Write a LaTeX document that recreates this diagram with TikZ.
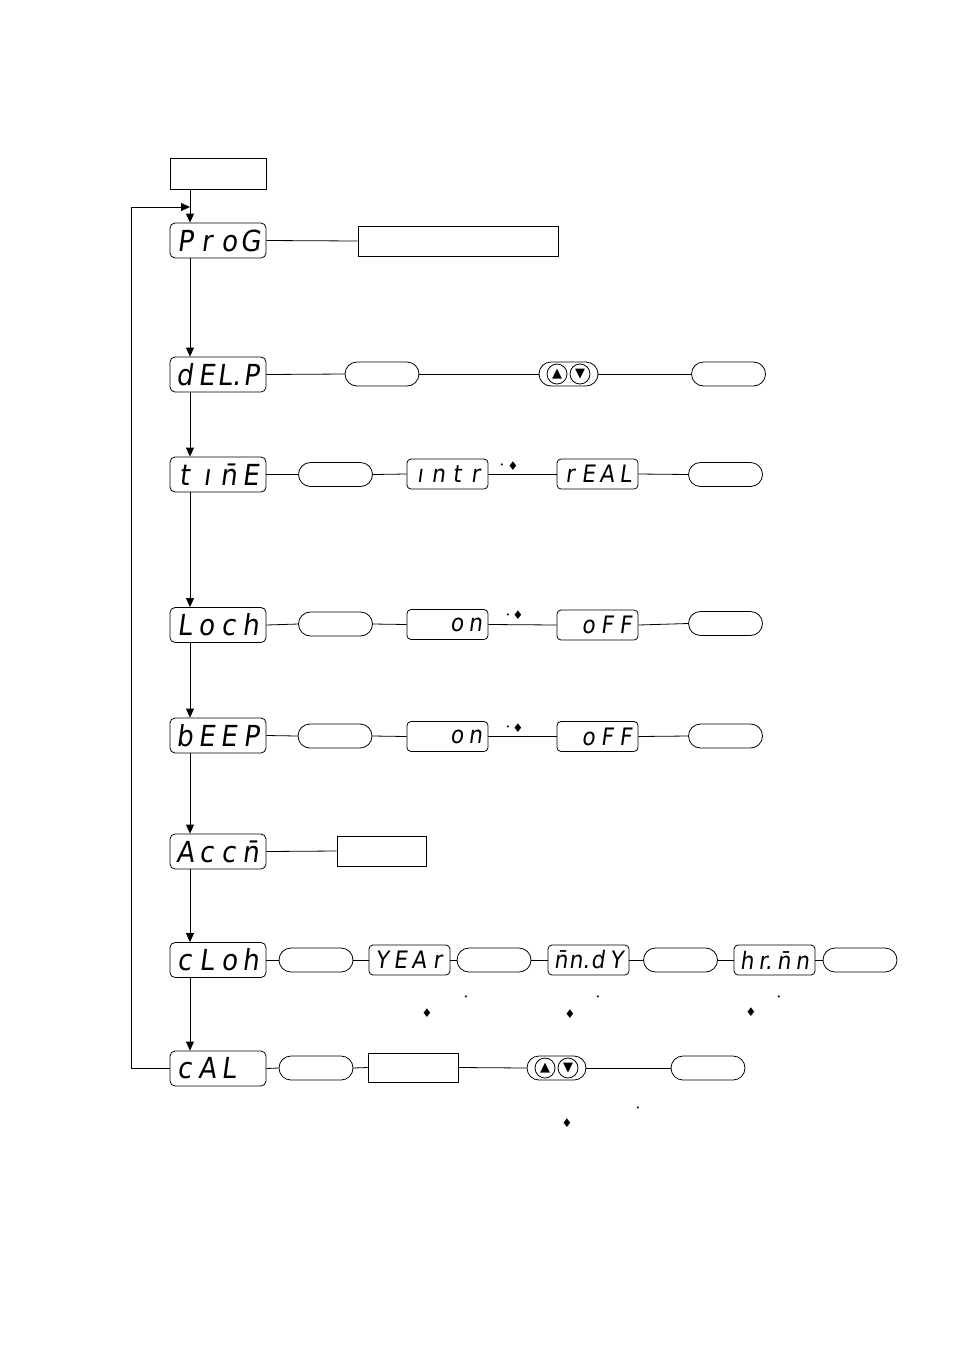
\documentclass[tikz,border=0pt]{standalone}
\usepackage{fontspec}
\setmainfont{DejaVu Sans}
\newfontfamily\segfont[FakeSlant=0.14]{DejaVu Sans Condensed}
\newfontfamily\symfont{DejaVu Sans}
\usetikzlibrary{arrows.meta}
\newcommand\dg[1]{\makebox[22pt][c]{#1}}
\newcommand\sg[1]{\makebox[18.5pt][c]{#1}}
\newcommand\bigdisp[4]{{\segfont\fontsize{29}{29}\selectfont\dg{#1}\dg{#2}\dg{#3}\dg{#4}}}
\newcommand\smdisp[4]{{\segfont\fontsize{24}{24}\selectfont\sg{#1}\sg{#2}\sg{#3}\sg{#4}}}
\begin{document}
\begin{tikzpicture}[x=1pt,y=-1pt,
  line width=0.8pt,
  disp/.style={draw, rounded corners=5pt, minimum width=96pt, minimum height=35pt, inner sep=0pt},
  sdisp/.style={draw, rounded corners=4pt, minimum width=81pt, minimum height=30pt, inner sep=0pt},
  oval/.style={draw, rounded corners=12pt, minimum width=74pt, minimum height=24pt, inner sep=0pt},
  pill/.style={draw, rounded corners=12pt, minimum width=59pt, minimum height=24pt, inner sep=0pt},
  btnc/.style={draw, circle, minimum size=20pt, inner sep=0pt, font=\symfont\fontsize{13}{13}\selectfont},
  plainbox/.style={draw, inner sep=0pt},
  dia/.style={inner sep=0pt, font=\symfont\fontsize{12}{12}\selectfont},
  tick/.style={inner sep=0pt, font=\symfont\fontsize{7}{7}\selectfont},
  arr/.style={-{Triangle[length=9pt,width=8pt]}}]
\useasboundingbox (0,0) rectangle (954,1350);

% top box
\node[plainbox, minimum width=96pt, minimum height=31pt] (top) at (218,173.5) {};

% ProG
\node[disp] (prog) at (218,240.5) {\bigdisp{P}{r}{o}{G}};
\node[plainbox, minimum width=200pt, minimum height=30pt] (progbox) at (458,241) {};
\draw (prog.east) -- (progbox.west);

% dEL.P
\node[disp] (delp) at (218,374.5) {\bigdisp{d}{E}{L.}{P}};
\node[oval] (d1) at (382,374) {};
\node[pill] (btn1) at (568.5,374) {};
\node[btnc] (u1) at (557,374) {▲};
\node[btnc] (v1) at (580,374) {▼};
\node[oval] (d2) at (728.5,374) {};
\draw (delp.east) -- (d1.west);
\draw (d1.east) -- (btn1.west);
\draw (btn1.east) -- (d2.west);

% timE
\node[disp] (time) at (218,474.5) {\bigdisp{t}{ı}{\={n}}{E}};
\node[oval] (t1) at (335.5,474.5) {};
\node[sdisp] (intr) at (447.5,474) {\smdisp{ı}{n}{t}{r}};
\node[tick] (tk1) at (502,466) {•};
\node[dia] (dm1) at (513,466) {♦};
\node[sdisp] (real) at (597.5,474) {\smdisp{r}{E}{A}{L}};
\node[oval] (t2) at (725.5,474.5) {};
\draw (time.east) -- (t1.west);
\draw (t1.east) -- (intr.west);
\draw (intr.east) -- (real.west);
\draw (real.east) -- (t2.west);

% Loch
\node[disp] (loch) at (218,625) {\bigdisp{L}{o}{c}{h}};
\node[oval] (l1) at (335.5,624) {};
\node[sdisp] (lon) at (447.5,624.5) {\smdisp{}{}{o}{n}};
\node[tick] (tk2) at (508,616) {•};
\node[dia] (dm2) at (518,615) {♦};
\node[sdisp] (loff) at (597.5,625) {\smdisp{}{o}{F}{F}};
\node[oval] (l2) at (725.5,623.5) {};
\draw (loch.east) -- (l1.west);
\draw (l1.east) -- (lon.west);
\draw (lon.east) -- (loff.west);
\draw (loff.east) -- (l2.west);

% bEEP
\node[disp] (beep) at (218,735.5) {\bigdisp{b}{E}{E}{P}};
\node[oval] (b1) at (335,736) {};
\node[sdisp] (bon) at (447.5,736.5) {\smdisp{}{}{o}{n}};
\node[tick] (tk3) at (508,728) {•};
\node[dia] (dm3) at (518,728) {♦};
\node[sdisp] (boff) at (597.5,736.5) {\smdisp{}{o}{F}{F}};
\node[oval] (b2) at (725.5,736) {};
\draw (beep.east) -- (b1.west);
\draw (b1.east) -- (bon.west);
\draw (bon.east) -- (boff.west);
\draw (boff.east) -- (b2.west);

% Accm
\node[disp] (accm) at (218,851.5) {\bigdisp{A}{c}{c}{\={n}}};
\node[plainbox, minimum width=89pt, minimum height=30pt] (accbox) at (381.5,851) {};
\draw (accm.east) -- (accbox.west);

% cLoh
\node[disp] (clok) at (218,960) {\bigdisp{c}{L}{o}{h}};
\node[oval] (c1) at (316,960) {};
\node[sdisp] (year) at (409.5,960) {\smdisp{Y}{E}{A}{r}};
\node[oval] (c2) at (494,960) {};
\node[sdisp] (mndy) at (588.5,960) {\smdisp{\={n}}{n.}{d}{Y}};
\node[oval] (c3) at (680.5,960) {};
\node[sdisp] (hrmn) at (774.5,960) {\smdisp{h}{r.}{\={n}}{n}};
\node[oval] (c4) at (860,960) {};
\draw (clok.east) -- (c1.west);
\draw (c1.east) -- (year.west);
\draw (year.east) -- (c2.west);
\draw (c2.east) -- (mndy.west);
\draw (mndy.east) -- (c3.west);
\draw (c3.east) -- (hrmn.west);
\draw (hrmn.east) -- (c4.west);
\node[dia] (dm4) at (427,1013) {♦};
\node[tick] (tk4) at (466,998) {•};
\node[dia] (dm5) at (570,1014) {♦};
\node[tick] (tk5) at (598,998) {•};
\node[dia] (dm6) at (751,1012) {♦};
\node[tick] (tk6) at (779,998) {•};

% cAL
\node[disp] (cal) at (218,1068.5) {\bigdisp{c}{A}{L}{}};
\node[oval] (k1) at (316,1068) {};
\node[plainbox, minimum width=90pt, minimum height=29pt] (calbox) at (413,1067.5) {};
\node[pill] (btn2) at (556.5,1068) {};
\node[btnc] (u2) at (545,1068) {▲};
\node[btnc] (v2) at (568,1068) {▼};
\node[oval] (k2) at (708,1068) {};
\draw (cal.east) -- (k1.west);
\draw (k1.east) -- (calbox.west);
\draw (calbox.east) -- (btn2.west);
\draw (btn2.east) -- (k2.west);
\node[dia] (dm7) at (567,1123) {♦};
\node[tick] (tk7) at (638,1109) {•};

% vertical flow
\coordinate (j) at (190,207);
\coordinate (lp) at (131,207);
\draw[arr] (top.south -| j) -- (prog.north -| j);
\draw[arr] (prog.south -| j) -- (delp.north -| j);
\draw[arr] (delp.south -| j) -- (time.north -| j);
\draw[arr] (time.south -| j) -- (loch.north -| j);
\draw[arr] (loch.south -| j) -- (beep.north -| j);
\draw[arr] (beep.south -| j) -- (accm.north -| j);
\draw[arr] (accm.south -| j) -- (clok.north -| j);
\draw[arr] (clok.south -| j) -- (cal.north -| j);
\draw[arr] (cal.west) -| (lp) -- (j);
\end{tikzpicture}
\end{document}
